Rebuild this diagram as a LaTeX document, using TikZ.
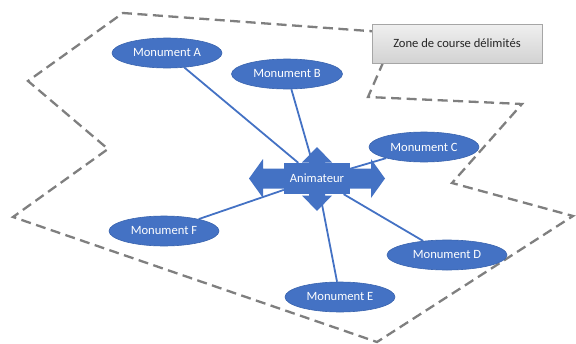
\documentclass[tikz,border=0pt]{standalone}
\usepackage{fontspec}
\setmainfont{Carlito}
\usetikzlibrary{shapes.geometric,backgrounds}
\definecolor{officeblue}{HTML}{4472C4}
\definecolor{officeedge}{HTML}{3A64AE}
\definecolor{zonegray}{HTML}{7F7F7F}
\tikzset{
  monument/.style={ellipse,fill=officeblue,draw=officeedge,line width=0.6pt,
    minimum width=110pt,minimum height=30pt,inner sep=0pt,text=white,
    font=\fontsize{12.6}{14}\selectfont},
  hubbox/.style={rectangle,fill=officeblue,minimum width=66pt,minimum height=31pt,
    inner sep=0pt,text=white,font=\fontsize{12.6}{14}\selectfont},
  link/.style={draw=officeblue,line width=1.8pt},
  zone/.style={draw=zonegray,line width=2.3pt,dash pattern=on 10pt off 5.5pt},
  legendbox/.style={rectangle,draw=gray!70,line width=0.6pt,top color=gray!12,
    bottom color=gray!35,minimum width=170pt,minimum height=39pt,inner sep=0pt,
    text=black!85,font=\fontsize{12.6}{14}\selectfont}
}
\begin{document}
\begin{tikzpicture}[x=1pt,y=-1pt]
\useasboundingbox (0,0) rectangle (576,343);
% zone limits
\draw[zone] (396,33) -- (368,97) -- (522,104) -- (452,183) -- (573,216)
  -- (377,342) -- (13,217) -- (108,149) -- (28,81) -- (123,13) -- cycle;
\node[legendbox] (zone) at (457,43.5) {Zone de course délimités};
% monuments
\node[monument] (ma) at (167,53) {Monument A};
\node[monument,minimum width=111pt] (mb) at (287,74) {Monument B};
\node[monument] (mc) at (424,147) {Monument C};
\node[monument,minimum width=120pt] (md) at (447,255) {Monument D};
\node[monument] (me) at (340,297) {Monument E};
\node[monument] (mf) at (164,231) {Monument F};
% animateur
\node[hubbox] (anim) at (317,178.5) {Animateur};
\begin{pgfonlayer}{background}
\foreach \m in {ma,mb,mc,md,me,mf}
  \draw[link] (anim) -- (\m);
\fill[officeblue,shift={(anim.center)}]
  (-68,0) -- (-54,-19.5) -- (-54,-10) -- (-8,-10) -- (-8,-16) -- (-15,-16)
  -- (0,-31.5) -- (15,-16) -- (8,-16) -- (8,-10) -- (54,-10) -- (54,-19.5)
  -- (68,0) -- (54,19.5) -- (54,10) -- (8,10) -- (8,17) -- (15,17)
  -- (0,32.5) -- (-15,17) -- (-8,17) -- (-8,10) -- (-54,10) -- (-54,19.5) -- cycle;
\end{pgfonlayer}
\end{tikzpicture}
\end{document}
